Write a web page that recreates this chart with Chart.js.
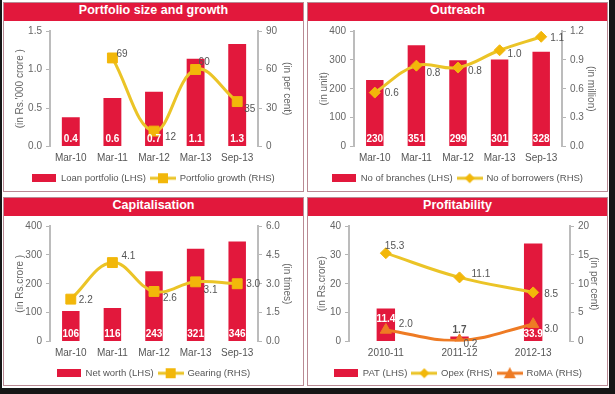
<!DOCTYPE html>
<html>
<head>
<meta charset="utf-8">
<script src="https://cdn.jsdelivr.net/npm/chart.js@4.4.1/dist/chart.umd.min.js"></script>
<style>
  html, body { margin: 0; padding: 0; }
  body { width: 615px; height: 394px; background: #161616; position: relative; overflow: hidden; }
  #fondo { position: absolute; left: 2px; top: 0; width: 607px; height: 388px; background: #fff; }
  .panel { position: absolute; width: 299px; border: 1px solid #b98a94; background: #fff; }
  .titulo { height: 18px; line-height: 18px; background: #E2183C; color: #fff; text-align: center;
            font: bold 12.5px "Liberation Sans", Arial, sans-serif; }
  canvas { display: block; }
</style>
</head>
<body>
<div id="fondo"></div>
<div class="panel" style="left:3px; top:2px;">
  <div class="titulo">Portfolio size and growth</div>
  <canvas id="cartera" width="299" height="170"></canvas>
</div>
<div class="panel" style="left:307px; top:2px;">
  <div class="titulo">Outreach</div>
  <canvas id="alcance" width="299" height="170"></canvas>
</div>
<div class="panel" style="left:3px; top:197px;">
  <div class="titulo">Capitalisation</div>
  <canvas id="capital" width="299" height="169"></canvas>
</div>
<div class="panel" style="left:307px; top:197px;">
  <div class="titulo">Profitability</div>
  <canvas id="rentabilidad" width="299" height="169"></canvas>
</div>
<script>
// Datos
const periodos = ["Mar-10", "Mar-11", "Mar-12", "Mar-13", "Sep-13"];
const anios = ["2010-11", "2011-12", "2012-13"];

const carteraPrestamos = [0.38, 0.63, 0.71, 1.14, 1.33];
const crecimientoCartera = [null, 69, 12, 60, 35];

const sucursales = [230, 351, 299, 301, 328];
const prestatarios = [0.56, 0.84, 0.82, 1.0, 1.14];

const patrimonio = [106, 116, 243, 321, 346];
const apalancamiento = [2.2, 4.1, 2.6, 3.1, 3.0];

const pat = [11.4, 1.7, 33.9];
const opex = [15.3, 11.1, 8.5];
const roma = [2.0, 0.2, 3.0];

// Colores
const ROJO = "#E2183C";
const AMARILLO = "#EBC427";
const AMARILLO_MARCA = "#F2B70A";
const NARANJA = "#EE7B24";
const GRIS = "#555";

const FUENTE = "'Liberation Sans', Arial, sans-serif";

// Iconos de la leyenda
function iconoBarra(color) {
  const c = document.createElement("canvas");
  c.width = 24; c.height = 8;
  const g = c.getContext("2d");
  g.fillStyle = color;
  g.fillRect(0, 0, 24, 8);
  return c;
}

function iconoLinea(color, colorMarca, forma) {
  const c = document.createElement("canvas");
  c.width = 26; c.height = 12;
  const g = c.getContext("2d");
  g.strokeStyle = color;
  g.lineWidth = 3;
  g.beginPath(); g.moveTo(0, 6); g.lineTo(26, 6); g.stroke();
  g.fillStyle = colorMarca;
  g.beginPath();
  if (forma === "rect") {
    g.rect(8, 1, 10, 10);
  } else if (forma === "rectRot") {
    g.moveTo(13, 1); g.lineTo(18, 6); g.lineTo(13, 11); g.lineTo(8, 6);
  } else {
    g.moveTo(13, 0); g.lineTo(19, 11); g.lineTo(7, 11);
  }
  g.closePath();
  g.fill();
  return c;
}

// Plugin para escribir los valores sobre barras y puntos
const pluginEtiquetas = {
  id: "etiquetas",
  afterDatasetsDraw(chart) {
    const ctx = chart.ctx;
    chart.data.datasets.forEach((ds, i) => {
      const conf = ds.etiquetas;
      if (!conf) return;
      const meta = chart.getDatasetMeta(i);
      meta.data.forEach((el, j) => {
        const valor = ds.data[j];
        if (valor === null) return;
        const texto = valor.toFixed(conf.decimales);
        ctx.save();
        ctx.textBaseline = "middle";
        if (ds.type === "bar") {
          const pos = conf.posiciones ? conf.posiciones[j] : "base";
          let y = el.base - 7;
          let color = "#fff";
          if (pos === "tope") y = el.y + 11;
          if (pos === "encima") { y = el.y - 6; color = GRIS; }
          ctx.font = "bold 10px " + FUENTE;
          ctx.fillStyle = color;
          ctx.textAlign = "center";
          ctx.fillText(texto, el.x, y);
        } else {
          const d = conf.desplazamientos[j];
          ctx.font = "10px " + FUENTE;
          ctx.fillStyle = GRIS;
          ctx.textAlign = "left";
          ctx.fillText(texto, el.x + d[0], el.y + d[1]);
        }
        ctx.restore();
      });
    });
  }
};

// Eje vertical
function ejeY(posicion, min, max, paso, decimales, titulo, ancho) {
  return {
    position: posicion,
    min: min,
    max: max,
    ticks: {
      stepSize: paso,
      color: "#666",
      padding: 4,
      font: { family: FUENTE, size: 10 },
      callback: v => v.toFixed(decimales)
    },
    grid: { display: true, drawOnChartArea: false, drawTicks: true, tickLength: 4, tickColor: "#b5b5b5" },
    border: { display: true, color: "#bcbcbc", width: 2 },
    title: { display: true, text: titulo, color: "#666", font: { family: FUENTE, size: 10 }, padding: { top: 4, bottom: 2 } },
    afterFit: s => { s.width = ancho; }
  };
}

// Opciones comunes
function opciones(izq, der, margenIzq, margenDer, margenAbajo) {
  return {
    responsive: false,
    animation: false,
    devicePixelRatio: 1,
    layout: { padding: { left: margenIzq, right: margenDer, top: 10, bottom: margenAbajo } },
    scales: {
      x: {
        grid: { display: false, drawTicks: false },
        border: { display: false },
        ticks: { color: GRIS, padding: 6, font: { family: FUENTE, size: 10 } },
        afterFit: s => { s.height = 22; }
      },
      y: izq,
      y1: der
    },
    plugins: {
      tooltip: { enabled: false },
      legend: {
        position: "bottom",
        labels: {
          usePointStyle: true,
          pointStyleWidth: 24,
          padding: 5,
          color: GRIS,
          font: { family: FUENTE, size: 9.5 },
          generateLabels: chart => chart.data.datasets.map((ds, i) => ({
            text: ds.label,
            pointStyle: ds.icono,
            fillStyle: "transparent",
            strokeStyle: "transparent",
            lineWidth: 0,
            hidden: false,
            datasetIndex: i,
            fontColor: GRIS
          }))
        }
      }
    }
  };
}

function serieLinea(etiqueta, datos, color, colorMarca, forma, radio, decimales, desplazamientos) {
  return {
    type: "line",
    label: etiqueta,
    data: datos,
    yAxisID: "y1",
    order: 0,
    borderColor: color,
    borderWidth: 3,
    tension: 0.4,
    pointStyle: forma,
    pointRadius: radio,
    pointBackgroundColor: colorMarca,
    pointBorderColor: colorMarca,
    pointBorderWidth: 1,
    icono: iconoLinea(color, colorMarca, forma),
    etiquetas: { decimales: decimales, desplazamientos: desplazamientos }
  };
}

function serieBarra(etiqueta, datos, ancho, decimales, posiciones) {
  return {
    type: "bar",
    label: etiqueta,
    data: datos,
    yAxisID: "y",
    order: 1,
    backgroundColor: ROJO,
    barPercentage: ancho,
    categoryPercentage: 1,
    icono: iconoBarra(ROJO),
    etiquetas: { decimales: decimales, posiciones: posiciones }
  };
}

// Cartera
new Chart(document.getElementById("cartera").getContext("2d"), {
  type: "bar",
  data: {
    labels: periodos,
    datasets: [
      serieBarra("Loan portfolio (LHS)", carteraPrestamos, 0.43, 1),
      serieLinea("Portfolio growth (RHS)", crecimientoCartera, AMARILLO, AMARILLO_MARCA, "rect", 7, 0,
        [null, [4, -4], [11, 6], [3, -7], [7, 8]])
    ]
  },
  options: opciones(
    ejeY("left", 0, 1.5, 0.5, 1, "(in Rs.'000 crore )", 40),
    ejeY("right", 0, 90, 30, 0, "(in per cent)", 39), 6, 6, -2),
  plugins: [pluginEtiquetas]
});

// Alcance
new Chart(document.getElementById("alcance").getContext("2d"), {
  type: "bar",
  data: {
    labels: periodos,
    datasets: [
      serieBarra("No of branches (LHS)", sucursales, 0.42, 0),
      serieLinea("No of borrowers (RHS)", prestatarios, AMARILLO, AMARILLO_MARCA, "rectRot", 5.5, 1,
        [[10, 1], [10, 8], [10, 4], [8, 4], [9, 1]])
    ]
  },
  options: opciones(
    ejeY("left", 0, 400, 100, 0, "(in unit)", 40),
    ejeY("right", 0, 1.2, 0.3, 1, "(in million)", 39), 6, 6, -2),
  plugins: [pluginEtiquetas]
});

// Capitalizacion
new Chart(document.getElementById("capital").getContext("2d"), {
  type: "bar",
  data: {
    labels: periodos,
    datasets: [
      serieBarra("Net worth (LHS)", patrimonio, 0.42, 0),
      serieLinea("Gearing (RHS)", apalancamiento, AMARILLO, AMARILLO_MARCA, "rect", 7, 1,
        [[8, 1], [9, -6], [9, 7], [8, 8], [9, 0]])
    ]
  },
  options: opciones(
    ejeY("left", 0, 400, 100, 0, "(in Rs.crore )", 40),
    ejeY("right", 0, 6, 1.5, 1, "(in times)", 39), 6, 6, -3),
  plugins: [pluginEtiquetas]
});

// Rentabilidad
new Chart(document.getElementById("rentabilidad").getContext("2d"), {
  type: "bar",
  data: {
    labels: anios,
    datasets: [
      serieBarra("PAT (LHS)", pat, 0.25, 1, ["tope", "encima", "base"]),
      serieLinea("Opex (RHS)", opex, AMARILLO, AMARILLO_MARCA, "rectRot", 5.5, 1,
        [[-1, -7], [12, -3], [11, 2]]),
      serieLinea("RoMA (RHS)", roma, NARANJA, NARANJA, "triangle", 6.5, 1,
        [[13, -6], [4, 4], [11, 5]])
    ]
  },
  options: opciones(
    ejeY("left", 0, 40, 10, 0, "(in Rs.crore)", 37),
    ejeY("right", 0, 20, 5, 0, "(in per cent)", 34), 4, 3, -3),
  plugins: [pluginEtiquetas]
});
</script>
</body>
</html>
